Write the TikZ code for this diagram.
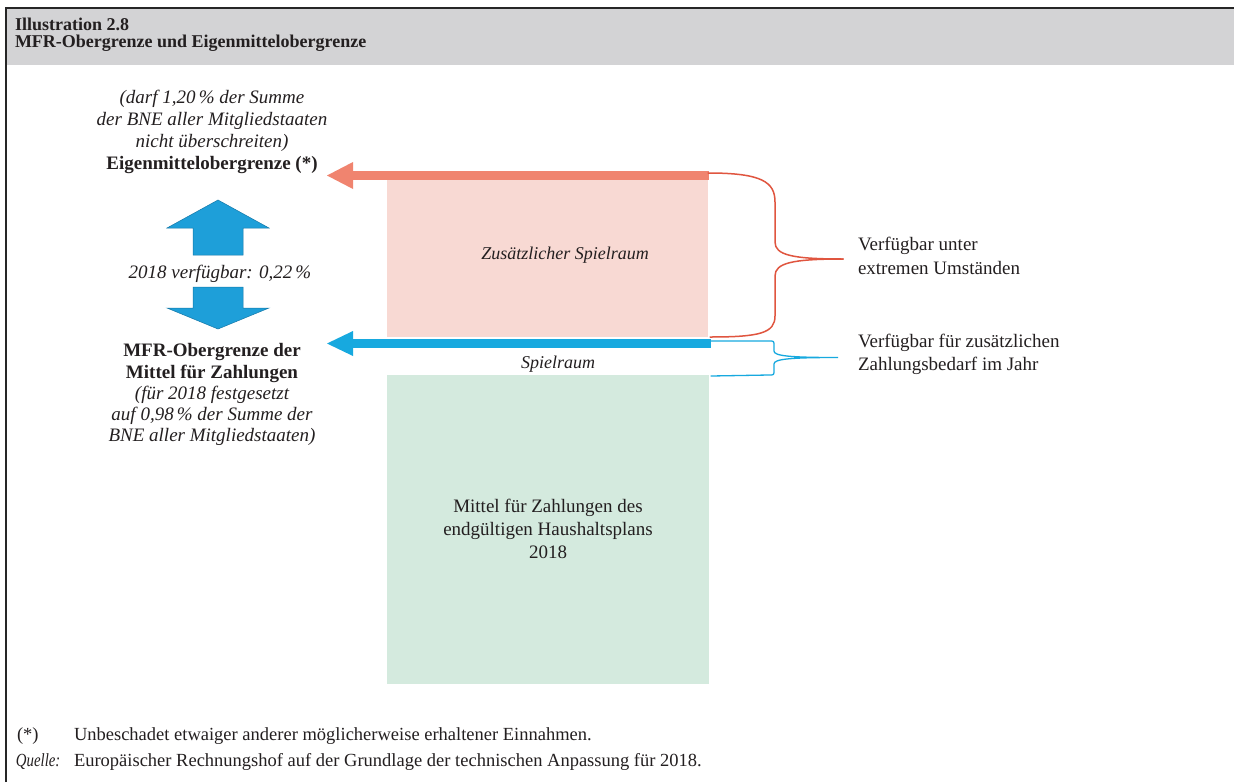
\documentclass[tikz,border=0pt]{standalone}
\usepackage{fontspec}
\usepackage{graphicx}
\setmainfont{Liberation Serif}
\definecolor{hdr}{HTML}{D3D3D5}
\definecolor{pinkbox}{HTML}{F8D9D3}
\definecolor{redbar}{HTML}{F0846F}
\definecolor{redbrace}{HTML}{E0553F}
\definecolor{bluebar}{HTML}{17A9DF}
\definecolor{bluearr}{HTML}{1E9FD9}
\definecolor{bluearrline}{HTML}{1478A8}
\definecolor{greenbox}{HTML}{D4EADE}
\definecolor{txt}{HTML}{231F20}
\newcommand\tstrut[1]{\rule{0pt}{#1pt}}
\newcommand\fz[2]{\fontsize{#1}{#2}\selectfont}
\begin{document}
\begin{tikzpicture}[x=1pt,y=-1pt,
  every node/.style={inner sep=0pt,outer sep=0pt,text=txt},
  lbl/.style={align=center},
  blockarrow/.style={fill=bluearr,draw=bluearrline,line width=0.5pt,line join=miter},
  redbrc/.style={draw=redbrace,line width=1.5pt,line cap=round},
  bluebrc/.style={draw=bluebar,line width=1.3pt,line cap=round}]
\useasboundingbox (0,0) rectangle (1234,782);
\fill[white] (0,0) rectangle (1234,782);
% header
\fill[hdr] (6,8) rectangle (1234,65);
\draw[line width=2.5pt,black!85] (6,782) -- (6,8) -- (1234,8);
\node[anchor=north west,align=left,font=\fz{18}{17}\bfseries] (title) at (15,17)
  {\tstrut{13}Illustration 2.8\\MFR-Obergrenze und Eigenmittelobergrenze};

% boxes
\fill[pinkbox] (387,178) rectangle (708,337);
\fill[greenbox] (387,375) rectangle (709,684);
\node (pink) at (547.5,257) {};
\node (green) at (548,530) {};

% bars with arrow heads
\fill[redbar] (352,171) rectangle (709,180);
\fill[redbar] (327,175.5) -- (353,162) -- (353,189) -- cycle;
\fill[bluebar] (352,339) rectangle (711,348);
\fill[bluebar] (327,343.5) -- (353,331) -- (353,356) -- cycle;

% left labels
\node[lbl,anchor=north,font=\fz{19}{22}\itshape] (eigtxt) at (212,89)
  {\tstrut{14}(darf 1,20\,\% der Summe\\der BNE aller Mitgliedstaaten\\nicht überschreiten)};
\node[anchor=base,font=\fz{19}{22}\bfseries] (eig) at (212,169) {Eigenmittelobergrenze (*)};
\draw[blockarrow] (218,200) -- (269,228) -- (243,228) -- (243,255) -- (193,255) -- (193,228) -- (167,228) -- cycle;
\node[anchor=base,font=\fz{19}{22}\itshape] (avail) at (220,278) {2018 verfügbar: 0,22\,\%};
\draw[blockarrow] (193,287) -- (243,287) -- (243,308) -- (269,308) -- (218,329) -- (167,308) -- (193,308) -- cycle;
\node[lbl,anchor=north,font=\fz{19}{22}\bfseries] (mfr) at (212,342)
  {\tstrut{14}MFR-Obergrenze der\\Mittel für Zahlungen};
\node[lbl,anchor=north,font=\fz{19}{21}\itshape] (mfrtxt) at (212,385)
  {\tstrut{14}(für 2018 festgesetzt\\auf 0,98\,\% der Summe der\\BNE aller Mitgliedstaaten)};

% box texts
\node[anchor=base,font=\fz{18}{22}\itshape] (zus) at (565,259) {Zusätzlicher Spielraum};
\node[anchor=base,font=\fz{18}{22}\itshape] (spiel) at (558,368) {Spielraum};
\node[lbl,anchor=north,font=\fz{19}{23}] (mittel) at (548,498)
  {\tstrut{14}Mittel für Zahlungen des\\endgültigen Haushaltsplans\\2018};

% braces
\coordinate (rtip) at (843,259);
\coordinate (btip) at (838,357.5);
\path[redbrc] (708,173) .. controls (762,173) and (775,182) .. (775,202) -- (775,242)
  .. controls (775,255) and (792,259) .. (rtip);
\path[redbrc] (rtip) .. controls (792,259) and (775,263) .. (775,276) -- (775,316)
  .. controls (775,333) and (760,337) .. (710,337);
\path[bluebrc] (711,341) -- (769,341) .. controls (774,341) .. (774,346) -- (774,351)
  .. controls (774,356) and (790,357.5) .. (btip)
  .. controls (790,357.5) and (774,359) .. (774,364) -- (774,370)
  .. controls (774,375) .. (769,375) -- (711,376);

% right labels
\node[anchor=north west,align=left,font=\fz{19}{24}] (r1) at (858,236)
  {\tstrut{14}Verfügbar unter\\extremen Umständen};
\node[anchor=north west,align=left,font=\fz{19}{23}] (r2) at (858,333)
  {\tstrut{14}Verfügbar für zusätzlichen\\Zahlungsbedarf im Jahr};

% footnotes
\node[anchor=base west,font=\fz{18.5}{22}] (fn1a) at (17,740) {(*)};
\node[anchor=base west,font=\fz{18.5}{22}] (fn1b) at (74,740) {Unbeschadet etwaiger anderer möglicherweise erhaltener Einnahmen.};
\node[anchor=base west,font=\fz{18.5}{22}\itshape] (fn2a) at (16,766) {\scalebox{0.8}[1]{Quelle:}};
\node[anchor=base west,font=\fz{18.5}{22}] (fn2b) at (74,766) {Europäischer Rechnungshof auf der Grundlage der technischen Anpassung für 2018.};
\end{tikzpicture}
\end{document}
